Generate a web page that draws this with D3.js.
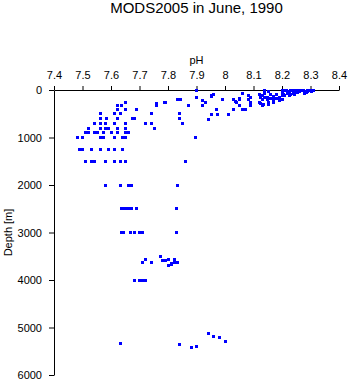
<!DOCTYPE html>
<html>
<head>
<meta charset="utf-8">
<script src="https://cdn.jsdelivr.net/npm/d3@7"></script>
<style>
  html, body { margin: 0; padding: 0; background: #fff; }
  svg { display: block; font-family: "Liberation Sans", Arial, sans-serif; }
</style>
</head>
<body>
<svg id="chart" width="350" height="384"></svg>
<script>
const chartTitle = "MODS2005 in June, 1990";
const xLabel = "pH";
const yLabel = "Depth [m]";
const xTicks = [7.4, 7.5, 7.6, 7.7, 7.8, 7.9, 8, 8.1, 8.2, 8.3, 8.4];
const yTicks = [0, 1000, 2000, 3000, 4000, 5000, 6000];

// pH readings
const phValues = [
  7.90, 7.90, 7.898,
  7.835, 7.845, 7.871, 7.76, 7.76, 7.786, 7.79, 7.652, 7.622, 7.638,
  7.622, 7.652, 7.691,
  7.563, 7.612, 7.632, 7.741, 7.841,
  7.563, 7.585, 7.622, 7.674, 7.682, 7.841,
  7.541, 7.563, 7.58, 7.612, 7.652, 7.72, 7.741, 7.852,
  7.52, 7.563, 7.58, 7.592, 7.622, 7.652, 7.752,
  7.511, 7.52, 7.541, 7.552, 7.572, 7.601, 7.622, 7.652, 7.662,
  7.482, 7.50, 7.563, 7.572, 7.612, 7.642, 7.652,
  7.491, 7.50, 7.531, 7.563, 7.592, 7.612, 7.642,
  7.511, 7.531, 7.541, 7.58, 7.612, 7.632, 7.652, 7.861,
  7.58, 7.632, 7.662, 7.672, 7.832,
  7.637, 7.645, 7.655, 7.665, 7.672, 7.691, 7.83,
  7.637, 7.645, 7.67, 7.681, 7.70, 7.71, 7.83,
  7.772, 7.72, 7.711, 7.741, 7.781, 7.79, 7.80, 7.80, 7.812, 7.812, 7.822, 7.822, 7.832,
  7.682, 7.70, 7.711, 7.72,
  7.632, 7.841, 7.882, 7.899, 7.941, 7.96, 7.98, 8.001,
  7.952, 7.952, 7.959, 7.99, 7.92, 7.931, 7.92,
  8.061, 8.082, 8.091, 8.05, 8.05, 8.029, 8.036, 8.041, 8.05, 8.082, 8.091, 8.091,
  7.971, 8.031, 8.062, 8.071,
  7.952, 7.972, 8.012, 7.941,
  8.14, 8.152, 8.126, 8.135, 8.152, 8.12, 8.152, 8.17, 8.132,
  8.12, 8.13, 8.14, 8.15, 8.16, 8.17, 8.18, 8.19, 8.13, 8.15, 8.17, 8.19, 8.16, 8.14, 8.125, 8.18, 8.2, 8.2, 8.2, 8.205, 8.2, 8.205,
  8.215, 8.22, 8.225, 8.23, 8.235, 8.24, 8.245, 8.25, 8.255, 8.26, 8.265, 8.24, 8.23, 8.225, 8.22, 8.21, 8.25, 8.255, 8.262, 8.245,
  8.275, 8.28, 8.285, 8.29, 8.295, 8.30, 8.305, 8.31, 8.29, 8.28
];

// matching depths in metres
const depthValues = [
  20, 160, 1000,
  210, 205, 316, 280, 316, 260, 260, 260, 316, 316,
  406, 406, 406,
  505, 505, 505, 505, 505,
  610, 610, 610, 610, 610, 610,
  709, 709, 709, 709, 709, 709, 709, 709,
  808, 808, 808, 808, 808, 808, 808,
  905, 905, 905, 905, 905, 905, 905, 905, 905,
  1000, 1000, 1000, 1000, 1000, 1000, 1000,
  1250, 1250, 1250, 1250, 1250, 1250, 1250,
  1500, 1500, 1500, 1500, 1500, 1500, 1500, 1500,
  2000, 2000, 2000, 2000, 2000,
  2500, 2500, 2500, 2500, 2500, 2500, 2500,
  3000, 3000, 3000, 3000, 3000, 3000, 3000,
  3500, 3558, 3642, 3627, 3593, 3585, 3575, 3691, 3650, 3670, 3575, 3627, 3627,
  4021, 4006, 4006, 4006,
  5333, 5368, 5411, 5397, 5123, 5193, 5207, 5305,
  110, 130, 105, 190, 217, 260, 316,
  70, 120, 162, 180, 210, 210, 240, 267, 316, 210, 267, 316,
  406, 406, 406, 406,
  512, 512, 512, 617,
  0, 35, 280, 300, 300, 267, 267, 267, 316,
  100, 120, 80, 150, 100, 130, 90, 160, 200, 200, 200, 230, 180, 160, 150, 180, 120, 60, 20, 0, 195, 90,
  10, 30, 50, 0, 20, 40, 0, 10, 30, 0, 20, 80, 100, 120, 70, 110, 60, 50, 40, 90,
  0, 30, 60, 10, 0, 20, 30, 0, 40, 80
];

const points = phValues.map((p, i) => ({ ph: p, depth: depthValues[i] }));

const svg = d3.select("#chart");
const mLeft = 54, mRight = 339, mTop = 90, mBottom = 375;

const x = d3.scaleLinear().domain([7.4, 8.4]).range([mLeft, mRight]);
const y = d3.scaleLinear().domain([0, 6000]).range([mTop, mBottom]);

svg.append("text")
  .attr("x", (mLeft + mRight) / 2)
  .attr("y", 13)
  .attr("text-anchor", "middle")
  .style("font-size", "15px")
  .text(chartTitle);

const xAxis = d3.axisTop(x)
  .tickValues(xTicks)
  .tickFormat(d => String(d))
  .tickSize(4)
  .tickSizeOuter(0)
  .tickPadding(7);

const gx = svg.append("g").attr("transform", `translate(0,${mTop})`).call(xAxis);
gx.selectAll("text").style("font-size", "11px").style("font-family", "Liberation Sans, Arial, sans-serif").attr("fill", "#000");
gx.selectAll("line, path").attr("stroke", "#000").attr("stroke-width", 1);

const yAxis = d3.axisLeft(y)
  .tickValues(yTicks)
  .tickFormat(d => String(d))
  .tickSize(5)
  .tickSizeOuter(0)
  .tickPadding(7);

const gy = svg.append("g").attr("transform", `translate(${mLeft},0)`).call(yAxis);
gy.selectAll("text").style("font-size", "11px").style("font-family", "Liberation Sans, Arial, sans-serif").attr("fill", "#000");
gy.selectAll("line, path").attr("stroke", "#000").attr("stroke-width", 1);

svg.append("text")
  .attr("x", (mLeft + mRight) / 2)
  .attr("y", 64)
  .attr("text-anchor", "middle")
  .style("font-size", "11px")
  .text(xLabel);

svg.append("text")
  .attr("transform", `translate(12,${(mTop + mBottom) / 2}) rotate(-90)`)
  .attr("text-anchor", "middle")
  .style("font-size", "11px")
  .text(yLabel);

svg.append("g")
  .selectAll("rect")
  .data(points)
  .join("rect")
  .attr("x", d => x(d.ph) - 1.5)
  .attr("y", d => y(d.depth) - 1.5)
  .attr("width", 3)
  .attr("height", 3)
  .attr("fill", "#0000ff")
  .attr("shape-rendering", "crispEdges");
</script>
</body>
</html>
